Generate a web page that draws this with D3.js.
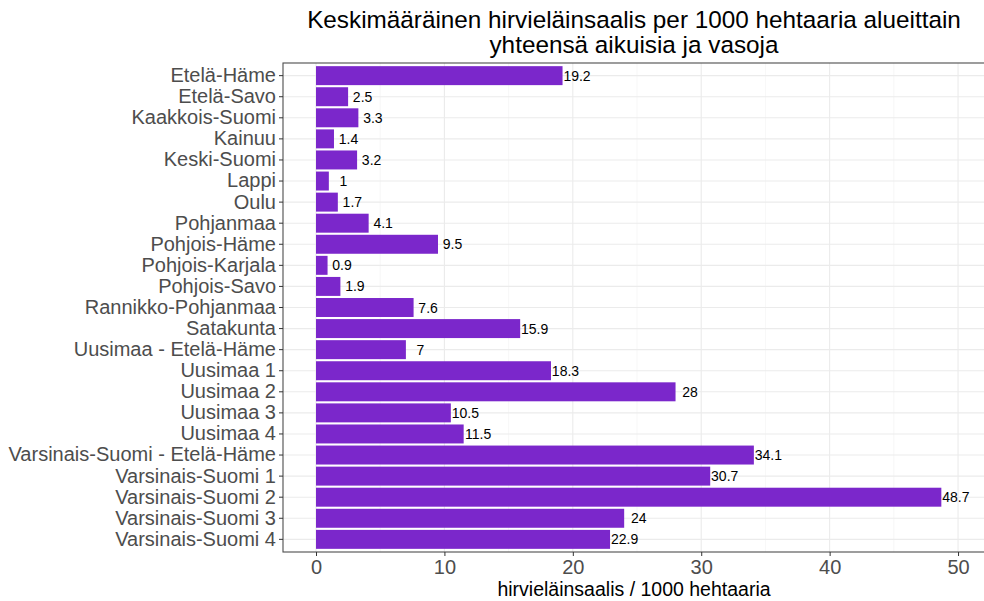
<!DOCTYPE html>
<html>
<head>
<meta charset="utf-8">
<script src="https://cdn.jsdelivr.net/npm/d3@7"></script>
<style>
  body { margin: 0; background: #fff; }
  text { font-family: "Liberation Sans", Arial, sans-serif; }
</style>
</head>
<body>
<svg width="984" height="601"></svg>
<script>
// data ======================================================
var regions = ["Etelä-Häme", "Etelä-Savo", "Kaakkois-Suomi", "Kainuu", "Keski-Suomi",
  "Lappi", "Oulu", "Pohjanmaa", "Pohjois-Häme", "Pohjois-Karjala", "Pohjois-Savo",
  "Rannikko-Pohjanmaa", "Satakunta", "Uusimaa - Etelä-Häme", "Uusimaa 1", "Uusimaa 2",
  "Uusimaa 3", "Uusimaa 4", "Varsinais-Suomi - Etelä-Häme", "Varsinais-Suomi 1",
  "Varsinais-Suomi 2", "Varsinais-Suomi 3", "Varsinais-Suomi 4"];
var values = [19.2, 2.5, 3.3, 1.4, 3.2, 1, 1.7, 4.1, 9.5, 0.9, 1.9, 7.6, 15.9, 7,
  18.3, 28, 10.5, 11.5, 34.1, 30.7, 48.7, 24, 22.9];
var xTicks = [0, 10, 20, 30, 40, 50];
var xMinor = [5, 15, 25, 35, 45];
var titleLines = ["Keskimääräinen hirvieläinsaalis per 1000 hehtaaria alueittain",
  "yhteensä aikuisia ja vasoja"];
var xTitle = "hirvieläinsaalis / 1000 hehtaaria";

// layout ====================================================
var svg = d3.select("svg");
var panel = {left: 283, top: 63, right: 985, bottom: 552};

var x = d3.scaleLinear()
    .domain([-2.57, 52.1])
    .range([panel.left, panel.right]);

var y = d3.scaleBand()
    .domain(regions)
    .range([panel.top, panel.bottom])
    .paddingInner(0.1)
    .paddingOuter(0.15);

var data = regions.map(function(r, i) { return {region: r, value: values[i]}; });

// grid
var grid = svg.append("g");
grid.selectAll("line.minor")
  .data(xMinor)
  .enter().append("line")
    .attr("x1", function(d) { return x(d); })
    .attr("x2", function(d) { return x(d); })
    .attr("y1", panel.top)
    .attr("y2", panel.bottom)
    .attr("stroke", "#f2f2f2")
    .attr("stroke-width", 0.6);
grid.selectAll("line.major")
  .data(xTicks)
  .enter().append("line")
    .attr("x1", function(d) { return x(d); })
    .attr("x2", function(d) { return x(d); })
    .attr("y1", panel.top)
    .attr("y2", panel.bottom)
    .attr("stroke", "#ebebeb")
    .attr("stroke-width", 1.1);
grid.selectAll("line.ygrid")
  .data(regions)
  .enter().append("line")
    .attr("x1", panel.left)
    .attr("x2", panel.right)
    .attr("y1", function(d) { return y(d) + y.bandwidth() / 2; })
    .attr("y2", function(d) { return y(d) + y.bandwidth() / 2; })
    .attr("stroke", "#ebebeb")
    .attr("stroke-width", 1.1);

// bars
svg.append("g").selectAll("rect")
  .data(data)
  .enter().append("rect")
    .attr("x", x(0))
    .attr("y", function(d) { return y(d.region); })
    .attr("width", function(d) { return x(d.value) - x(0); })
    .attr("height", y.bandwidth())
    .attr("fill", "#7b27cb");

// value labels
svg.append("g").selectAll("text")
  .data(data)
  .enter().append("text")
    .attr("x", function(d) { return x(d.value) + 14.5; })
    .attr("y", function(d) { return y(d.region) + y.bandwidth() / 2; })
    .attr("dy", "0.36em")
    .attr("text-anchor", "middle")
    .attr("font-size", 14)
    .attr("fill", "#000")
    .text(function(d) { return d.value; });

// panel border
svg.append("rect")
    .attr("x", panel.left)
    .attr("y", panel.top)
    .attr("width", panel.right - panel.left)
    .attr("height", panel.bottom - panel.top)
    .attr("fill", "none")
    .attr("stroke", "#4d4d4d")
    .attr("stroke-width", 1.1);

// axes
var yAxis = svg.append("g")
    .attr("transform", "translate(" + panel.left + ",0)")
    .call(d3.axisLeft(y).tickSize(4).tickPadding(3));
var xAxis = svg.append("g")
    .attr("transform", "translate(0," + panel.bottom + ")")
    .call(d3.axisBottom(x).tickValues(xTicks).tickSize(4).tickPadding(3));
[yAxis, xAxis].forEach(function(a) {
  a.select(".domain").remove();
  a.selectAll(".tick line").attr("stroke", "#333");
  a.selectAll(".tick text")
    .attr("fill", "#4d4d4d")
    .attr("font-size", 20)
    .attr("font-family", "Liberation Sans, Arial, sans-serif");
});
xAxis.selectAll(".tick text").attr("dy", "0.74em");

// titles
svg.append("text")
    .attr("x", (panel.left + panel.right) / 2)
    .attr("y", 596)
    .attr("text-anchor", "middle")
    .attr("font-size", 19.5)
    .attr("fill", "#000")
    .text(xTitle);

svg.append("g").selectAll("text")
  .data(titleLines)
  .enter().append("text")
    .attr("x", (panel.left + panel.right) / 2)
    .attr("y", function(d, i) { return 28 + i * 25; })
    .attr("text-anchor", "middle")
    .attr("font-size", 24.3)
    .attr("fill", "#000")
    .text(function(d) { return d; });
</script>
</body>
</html>
